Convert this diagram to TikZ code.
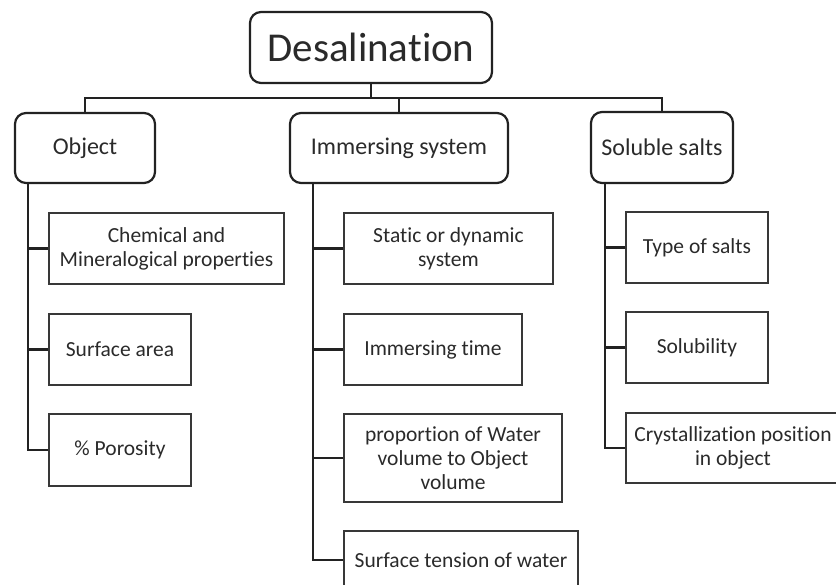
\documentclass[tikz,border=0pt]{standalone}
\usepackage{fontspec}
\setmainfont{Carlito}[Ligatures={NoCommon}]
\definecolor{ink}{HTML}{222222}
\definecolor{txt}{HTML}{2A2A2A}
\begin{document}
\begin{tikzpicture}[x=1pt,y=-1pt,
  head/.style={draw=ink,line width=2.2pt,rounded corners=11pt,inner sep=0pt,text=txt,
    font=\fontsize{24}{28}\selectfont,align=center},
  leaf/.style={draw=ink!90,line width=1.7pt,inner sep=0pt,text=txt,
    font=\fontsize{21.5}{24}\selectfont,align=center},
  link/.style={draw=ink,line width=2.2pt}]
\useasboundingbox (0,0) rectangle (836,585);
\clip (0,0) rectangle (836,585);
\node[head,minimum width=242pt,minimum height=71pt,font=\fontsize{41}{46}\selectfont] (desal) at (371,47.5) {Desalination};
\node[head,minimum width=140pt,minimum height=70pt] (obj) at (85,148) {Object};
\node[head,minimum width=218pt,minimum height=70pt] (imm) at (399,148) {Immersing system};
\node[head,minimum width=142pt,minimum height=71pt] (sol) at (662,147.5) {Soluble salts};
\coordinate (bus) at (0,98);
\draw[link] (desal.south) -- (desal.south |- bus);
\draw[link] (obj.north) -- (obj.north |- bus) -- (sol.north |- bus) -- (sol.north);
\draw[link] (imm.north) -- (imm.north |- bus);
% Object column
\node[leaf,minimum width=235pt,minimum height=71pt] (c1) at (166.5,248.5) {Chemical and\\Mineralogical properties};
\node[leaf,minimum width=142pt,minimum height=71pt] (c2) at (120,349.5) {Surface area};
\node[leaf,minimum width=142pt,minimum height=72pt] (c3) at (120,450) {\% Porosity};
\coordinate (os) at (28,0);
\draw[link] (obj.south -| os) |- (c3.west);
\draw[link] (c1.west) -- (c1.west -| os);
\draw[link] (c2.west) -- (c2.west -| os);
% Immersing column
\node[leaf,minimum width=209pt,minimum height=71pt] (i1) at (448.5,248.5) {Static or dynamic\\system};
\node[leaf,minimum width=178pt,minimum height=71pt] (i2) at (433,349.5) {Immersing time};
\node[leaf,minimum width=218pt,minimum height=88pt] (i3) at (453,458) {proportion of Water\\volume to Object\\volume};
\node[leaf,minimum width=234pt,minimum height=58pt] (i4) at (461,560) {Surface tension of water};
\coordinate (is) at (313,0);
\draw[link] (imm.south -| is) |- (i4.west);
\draw[link] (i1.west) -- (i1.west -| is);
\draw[link] (i2.west) -- (i2.west -| is);
\draw[link] (i3.west) -- (i3.west -| is);
% Soluble column
\node[leaf,minimum width=142pt,minimum height=71pt] (s1) at (697,247.5) {Type of salts};
\node[leaf,minimum width=142pt,minimum height=71pt] (s2) at (697,347.5) {Solubility};
\node[leaf,minimum width=214pt,minimum height=70pt] (s3) at (733,448) {Crystallization position\\in object};
\coordinate (ss) at (605,0);
\draw[link] (sol.south -| ss) |- (s3.west);
\draw[link] (s1.west) -- (s1.west -| ss);
\draw[link] (s2.west) -- (s2.west -| ss);
\end{tikzpicture}
\end{document}
